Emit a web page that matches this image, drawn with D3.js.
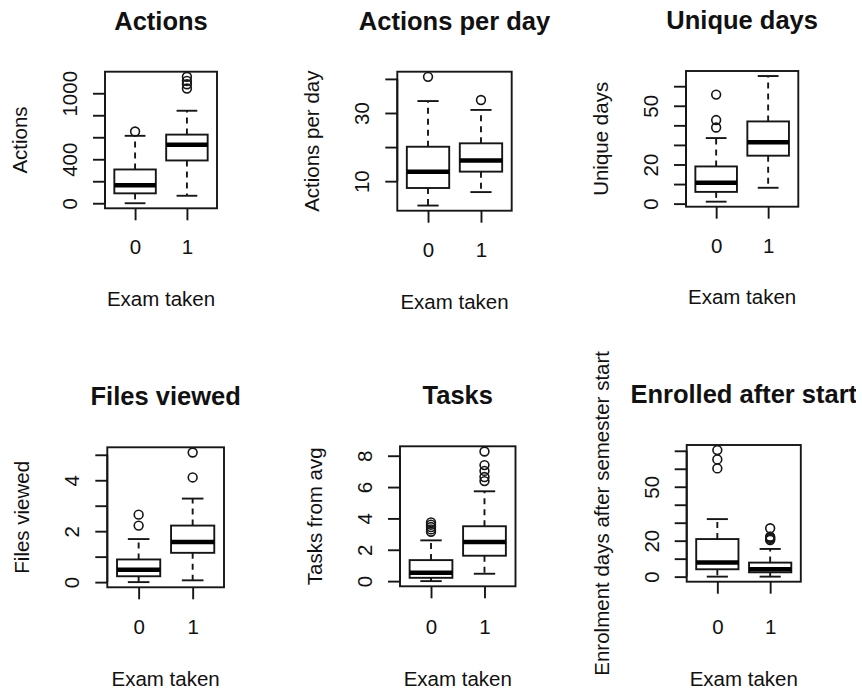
<!DOCTYPE html>
<html>
<head>
<meta charset="utf-8">
<script src="https://cdn.jsdelivr.net/npm/d3@7"></script>
<style>
  html, body { margin: 0; padding: 0; background: #fff; }
  svg { display: block; }
  text { font-family: "Liberation Sans", Arial, Helvetica, sans-serif; fill: #111; }
</style>
</head>
<body>
<svg id="chart" width="862" height="689"></svg>
<script>
// ---------------- DATA ----------------
const categories = ["0", "1"];
const xAxisTitle = "Exam taken";
const panelTitles = ["Actions", "Actions per day", "Unique days", "Files viewed", "Tasks", "Enrolled after start"];
const yAxisTitles = ["Actions", "Actions per day", "Unique days", "Files viewed", "Tasks from avg", "Enrolment days after semester start"];

// box stats per group: [lower whisker, Q1, median, Q3, upper whisker]
const actionsStats   = [[0, 90, 164, 307, 613], [68, 389, 532, 624, 841]];
const actionsOut     = [[652], [1043, 1082, 1112, 1150]];
const actionsTicks   = [0, 200, 400, 600, 800, 1000];
const actionsLabels  = [0, 400, 1000];

const perDayStats    = [[2.85, 8.0, 12.8, 20.1, 33.5], [6.8, 12.8, 16.1, 21.1, 30.9]];
const perDayOut      = [[40.6], [33.8]];
const perDayTicks    = [10, 20, 30, 40];
const perDayLabels   = [10, 30];

const uniqueStats    = [[1, 6, 10.7, 19, 33.5], [8.1, 24.5, 31.4, 42, 65.2]];
const uniqueOut      = [[38.9, 42.7, 55.7], []];
const uniqueTicks    = [0, 10, 20, 30, 40, 50, 60];
const uniqueLabels   = [0, 20, 50];

const filesStats     = [[0, 0.23, 0.49, 0.89, 1.69], [0.07, 1.15, 1.58, 2.22, 3.28]];
const filesOut       = [[2.22, 2.65], [4.11, 5.09]];
const filesTicks     = [0, 1, 2, 3, 4, 5];
const filesLabels    = [0, 2, 4];

const tasksStats     = [[0, 0.21, 0.54, 1.34, 2.6], [0.47, 1.62, 2.49, 3.5, 5.73]];
const tasksOut       = [[3.15, 3.3, 3.45, 3.6, 3.75], [6.38, 6.64, 7.03, 7.4, 8.27]];
const tasksTicks     = [0, 2, 4, 6, 8];
const tasksLabels    = [0, 2, 4, 6, 8];

const enrolStats     = [[0, 4.1, 7.8, 20.9, 32], [0, 2.4, 4.1, 7.8, 15.4]];
const enrolOut       = [[60.2, 65.2, 70.4], [20.4, 21.0, 21.6, 22.2, 26.9]];
const enrolTicks     = [0, 10, 20, 30, 40, 50, 60, 70];
const enrolLabels    = [0, 20, 50];

const panelData = [
  { stats: actionsStats, out: actionsOut, ticks: actionsTicks, labels: actionsLabels },
  { stats: perDayStats,  out: perDayOut,  ticks: perDayTicks,  labels: perDayLabels },
  { stats: uniqueStats,  out: uniqueOut,  ticks: uniqueTicks,  labels: uniqueLabels },
  { stats: filesStats,   out: filesOut,   ticks: filesTicks,   labels: filesLabels },
  { stats: tasksStats,   out: tasksOut,   ticks: tasksTicks,   labels: tasksLabels },
  { stats: enrolStats,   out: enrolOut,   ticks: enrolTicks,   labels: enrolLabels }
];

// ---------------- LAYOUT (plot box geometry) ----------------
const layout = [
  { l: 105,   r: 217,   t: 71.7,  b: 208.3, xTickY: 254, xTitleY: 306 },
  { l: 397.3, r: 511.7, t: 71.7,  b: 210.7, xTickY: 257, xTitleY: 309 },
  { l: 686,   r: 798.3, t: 71,    b: 206.7, xTickY: 253, xTitleY: 304 },
  { l: 107.3, r: 224,   t: 447.3, b: 587.3, xTickY: 634, xTitleY: 686 },
  { l: 400,   r: 515.5, t: 446.3, b: 586.3, xTickY: 634, xTitleY: 686 },
  { l: 686.7, r: 800.8, t: 445,   b: 581.7, xTickY: 634, xTitleY: 686 }
];

const ink = "#161616";
const lw = 1.9;
const svg = d3.select("#chart");

svg.append("defs").append("clipPath").attr("id", "pageclip")
  .append("rect").attr("x", 0).attr("y", 0).attr("width", 856).attr("height", 689);

panelData.forEach((pd, i) => {
  const L = layout[i];
  const g = svg.append("g").attr("clip-path", "url(#pageclip)");

  // y domain like R: data range extended by 4%
  const allVals = pd.stats.flat().concat(pd.out.flat());
  const mn = d3.min(allVals), mx = d3.max(allVals), rg = mx - mn;
  const y = d3.scaleLinear().domain([mn - 0.04 * rg, mx + 0.04 * rg]).range([L.b, L.t]);
  const x = d3.scaleLinear().domain([0.42, 2.58]).range([L.l, L.r]);
  const bw = (x(1.4) - x(1.0)); // half box width (box width 0.8)
  const cw = bw / 2;            // half staple width

  // y axis
  const yAxis = d3.axisLeft(y).tickValues(pd.ticks).tickSize(12).tickSizeOuter(0)
    .tickFormat(d => pd.labels.includes(d) ? String(d) : "");
  const ya = g.append("g").attr("transform", `translate(${L.l},0)`).call(yAxis);
  ya.select(".domain").remove();
  ya.selectAll(".tick line").attr("stroke", ink).attr("stroke-width", lw);
  ya.selectAll(".tick text")
    .attr("transform", "rotate(-90)")
    .attr("x", 0).attr("y", -28).attr("dy", null)
    .attr("text-anchor", "middle")
    .style("font-size", "20.5px").attr("fill", "#111");
  g.append("line").attr("x1", L.l).attr("x2", L.l)
    .attr("y1", y(pd.ticks[0])).attr("y2", y(pd.ticks[pd.ticks.length - 1]))
    .attr("stroke", ink).attr("stroke-width", lw);

  // x axis
  const xAxis = d3.axisBottom(x).tickValues([1, 2]).tickSize(12).tickSizeOuter(0)
    .tickFormat((d, k) => categories[k]);
  const xa = g.append("g").attr("transform", `translate(0,${L.b})`).call(xAxis);
  xa.select(".domain").remove();
  xa.selectAll(".tick line").attr("stroke", ink).attr("stroke-width", lw);
  xa.selectAll(".tick text")
    .attr("y", L.xTickY - L.b).attr("dy", null)
    .style("font-size", "20.5px").attr("fill", "#111");

  // boxes
  pd.stats.forEach((s, k) => {
    const cx = x(k + 1);
    const [lo, q1, med, q3, hi] = s;
    // whiskers (dashed)
    g.append("line").attr("x1", cx).attr("x2", cx).attr("y1", y(q3)).attr("y2", y(hi))
      .attr("stroke", ink).attr("stroke-width", lw).attr("stroke-dasharray", "6,5");
    g.append("line").attr("x1", cx).attr("x2", cx).attr("y1", y(q1)).attr("y2", y(lo))
      .attr("stroke", ink).attr("stroke-width", lw).attr("stroke-dasharray", "6,5");
    // staples
    [lo, hi].forEach(v => {
      g.append("line").attr("x1", cx - cw).attr("x2", cx + cw).attr("y1", y(v)).attr("y2", y(v))
        .attr("stroke", ink).attr("stroke-width", lw);
    });
    // box
    g.append("rect").attr("x", cx - bw).attr("width", 2 * bw)
      .attr("y", y(q3)).attr("height", y(q1) - y(q3))
      .attr("fill", "none").attr("stroke", ink).attr("stroke-width", lw);
    // median
    g.append("line").attr("x1", cx - bw).attr("x2", cx + bw).attr("y1", y(med)).attr("y2", y(med))
      .attr("stroke", "#000").attr("stroke-width", 4.5);
    // outliers
    pd.out[k].forEach(v => {
      g.append("circle").attr("cx", cx).attr("cy", y(v)).attr("r", 4.4)
        .attr("fill", "none").attr("stroke", ink).attr("stroke-width", 1.6);
    });
  });

  // frame
  g.append("rect").attr("x", L.l).attr("y", L.t).attr("width", L.r - L.l).attr("height", L.b - L.t)
    .attr("fill", "none").attr("stroke", ink).attr("stroke-width", lw);

  // titles
  const cxm = (L.l + L.r) / 2, cym = (L.t + L.b) / 2;
  g.append("text").attr("x", cxm).attr("y", L.t - 42).attr("text-anchor", "middle")
    .style("font-size", "25.5px").style("font-weight", "bold").text(panelTitles[i]);
  g.append("text").attr("transform", `translate(${L.l - 78},${cym}) rotate(-90)`)
    .attr("text-anchor", "middle").style("font-size", "20.5px").text(yAxisTitles[i]);
  g.append("text").attr("x", cxm).attr("y", L.xTitleY).attr("text-anchor", "middle")
    .style("font-size", "20.5px").text(xAxisTitle);
});
</script>
</body>
</html>
